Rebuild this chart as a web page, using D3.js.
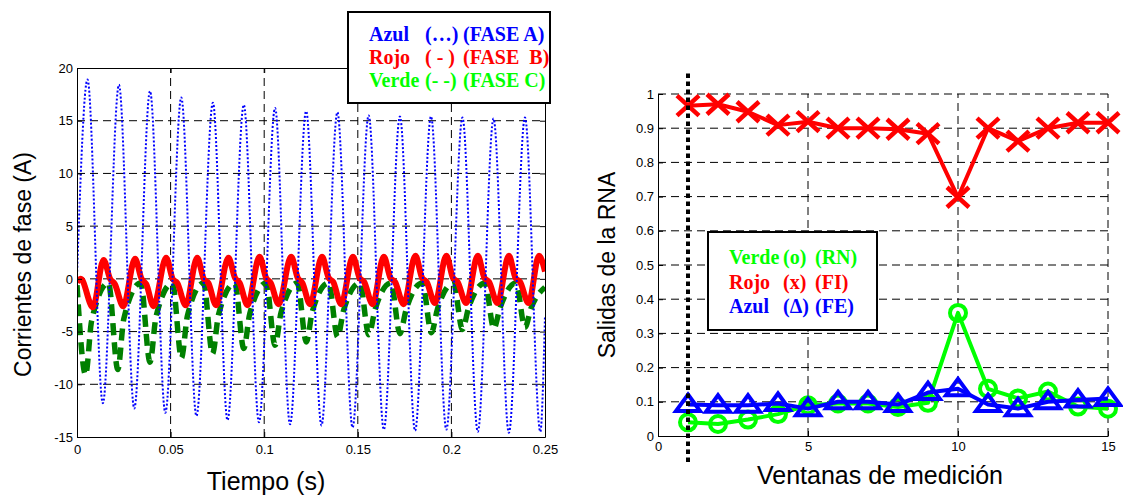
<!DOCTYPE html>
<html>
<head>
<meta charset="utf-8">
<script src="https://cdn.jsdelivr.net/npm/d3@7"></script>
<style>
  body { margin: 0; background: #fff; }
  svg { display: block; }
</style>
</head>
<body>
<div id="chart"></div>
<script>
// ---- left panel: phase currents (t in s, value in A), key points
const timeTicks = [0, 0.05, 0.1, 0.15, 0.2, 0.25];
const currentTicks = [-15, -10, -5, 0, 5, 10, 15, 20];

const faseA = [
  [0, 0.3], [0.0056, 18.9], [0.0138, -11.8], [0.0224, 18.4], [0.0306, -12.3],
  [0.039, 17.8], [0.0472, -12.7], [0.0557, 17.2], [0.0638, -13.0], [0.0726, 16.7],
  [0.0804, -13.4], [0.0891, 16.5], [0.0972, -13.6], [0.1058, 16.2], [0.1138, -13.8],
  [0.1224, 15.9], [0.1306, -13.9], [0.1391, 15.8], [0.1472, -14.1], [0.1558, 15.5],
  [0.1639, -14.3], [0.1725, 15.4], [0.1806, -14.4], [0.1891, 15.4], [0.1973, -14.3],
  [0.2059, 15.3], [0.2141, -14.5], [0.2225, 15.2], [0.2307, -14.6], [0.2393, 15.3],
  [0.2475, -14.5], [0.25, -3.5]
];

const faseB = [
  [0, -0.3], [0.002, 0.0], [0.0085, -2.7],
  [0.0142, 1.8], [0.0177, 0.0], [0.0202, -0.5], [0.0247, -2.6],
  [0.031, 1.9], [0.0345, 0.0], [0.037, -0.5], [0.0409, -2.6],
  [0.0476, 2.0], [0.0511, 0.0], [0.0536, -0.4], [0.0581, -2.5],
  [0.0642, 2.0], [0.0677, 0.0], [0.0702, -0.4], [0.0743, -2.5],
  [0.0809, 2.0], [0.0844, 0.1], [0.0869, -0.4], [0.0911, -2.5],
  [0.0975, 2.1], [0.101, 0.1], [0.1035, -0.4], [0.1077, -2.4],
  [0.1144, 2.1], [0.1179, 0.1], [0.1204, -0.4], [0.1245, -2.4],
  [0.1309, 2.1], [0.1344, 0.1], [0.1369, -0.3], [0.1411, -2.4],
  [0.1474, 2.1], [0.1509, 0.1], [0.1534, -0.3], [0.1579, -2.4],
  [0.1639, 2.1], [0.1674, 0.1], [0.1699, -0.3], [0.1745, -2.4],
  [0.1808, 2.2], [0.1843, 0.1], [0.1868, -0.3], [0.1912, -2.3],
  [0.1973, 2.2], [0.2008, 0.1], [0.2033, -0.3], [0.2079, -2.3],
  [0.2141, 2.2], [0.2176, 0.1], [0.2201, -0.3], [0.2246, -2.3],
  [0.2307, 2.2], [0.2342, 0.1], [0.2367, -0.3], [0.2412, -2.3],
  [0.2468, 2.2], [0.25, 0.7]
];

const faseC = [
  [0, -0.6], [0.0046, -9.1], [0.0078, -4.0], [0.0168, -0.4],
  [0.0218, -8.6], [0.025, -3.8], [0.034, -0.4],
  [0.039, -7.9], [0.0422, -3.6], [0.051, -0.4],
  [0.0558, -7.5], [0.059, -3.5], [0.0676, -0.4],
  [0.0724, -7.1], [0.0756, -3.4], [0.0843, -0.4],
  [0.0891, -6.6], [0.0923, -3.3], [0.101, -0.4],
  [0.1058, -6.3], [0.109, -3.2], [0.1177, -0.4],
  [0.1225, -6.0], [0.1257, -3.1], [0.1344, -0.4],
  [0.1392, -5.5], [0.1424, -3.0], [0.1511, -0.4],
  [0.1559, -5.3], [0.1591, -3.0], [0.1677, -0.4],
  [0.1725, -5.2], [0.1757, -3.0], [0.1845, -0.4],
  [0.1893, -5.1], [0.1925, -2.9], [0.2011, -0.4],
  [0.2059, -4.8], [0.2091, -2.8], [0.2179, -0.4],
  [0.2227, -4.7], [0.2259, -2.8], [0.2345, -0.4],
  [0.2393, -4.6], [0.2425, -2.8], [0.25, -0.8]
];

const leftLegend = [
  { name: 'Azul', mark: '(…)', fase: '(FASE A)', color: '#0000ff' },
  { name: 'Rojo', mark: '( - )', fase: '(FASE\u00a0 B)', color: '#ff0000' },
  { name: 'Verde', mark: '(- -)', fase: '(FASE C)', color: '#00ff00' }
];

// ---- right panel: ANN outputs per measurement window
const ventanas = [1, 2, 3, 4, 5, 6, 7, 8, 9, 10, 11, 12, 13, 14, 15];
const salidaRN = [0.04, 0.035, 0.048, 0.064, 0.09, 0.095, 0.095, 0.085, 0.097, 0.36, 0.138, 0.11, 0.13, 0.086, 0.08];
const salidaFI = [0.966, 0.97, 0.948, 0.909, 0.919, 0.9, 0.9, 0.897, 0.884, 0.698, 0.9, 0.862, 0.9, 0.916, 0.916];
const salidaFE = [0.092, 0.09, 0.09, 0.095, 0.08, 0.1, 0.1, 0.092, 0.127, 0.138, 0.092, 0.08, 0.1, 0.105, 0.11];
const windowTicks = [0, 5, 10, 15];
const outputTicks = [0, 0.1, 0.2, 0.3, 0.4, 0.5, 0.6, 0.7, 0.8, 0.9, 1];
const marcaVentana = 1;

const rightLegend = [
  { name: 'Verde', mark: '(o)', tag: '(RN)', color: '#00ff00' },
  { name: 'Rojo', mark: '(x)', tag: '(FI)', color: '#ff0000' },
  { name: 'Azul', mark: '(\u0394)', tag: '(FE)', color: '#0000ff' }
];

const sans = '"Liberation Sans", Arial, sans-serif';
const serif = '"Liberation Serif", "Times New Roman", serif';

const svg = d3.select('#chart').append('svg')
  .attr('width', 1123)
  .attr('height', 496)
  .style('background', '#fff');

function styleAxis(g) {
  g.selectAll('path.domain').attr('stroke', '#000').attr('stroke-width', 1);
  g.selectAll('.tick line').attr('stroke', '#000');
  g.selectAll('.tick text').attr('font-family', sans).attr('font-size', 13).attr('fill', '#000');
}

// ================= LEFT PANEL =================
const xL = d3.scaleLinear().domain([0, 0.25]).range([77, 545]);
const yL = d3.scaleLinear().domain([-15, 20]).range([437, 68]);

const left = svg.append('g');

left.append('defs').append('clipPath').attr('id', 'clipL')
  .append('rect')
  .attr('x', xL(0)).attr('y', yL(20))
  .attr('width', xL(0.25) - xL(0)).attr('height', yL(-15) - yL(20));

// grid
left.append('g').selectAll('line')
  .data(timeTicks.slice(1, -1))
  .join('line')
  .attr('x1', d => xL(d)).attr('x2', d => xL(d))
  .attr('y1', yL(-15)).attr('y2', yL(20))
  .attr('stroke', '#000').attr('stroke-dasharray', '8,5');
left.append('g').selectAll('line')
  .data(currentTicks.slice(1, -1))
  .join('line')
  .attr('y1', d => yL(d)).attr('y2', d => yL(d))
  .attr('x1', xL(0)).attr('x2', xL(0.25))
  .attr('stroke', '#000').attr('stroke-dasharray', '8,5');

const lineL = d3.line()
  .x(d => xL(d[0]))
  .y(d => yL(d[1]))
  .curve(d3.curveMonotoneX);

const series = left.append('g').attr('clip-path', 'url(#clipL)');
series.append('path').datum(faseC)
  .attr('d', lineL).attr('fill', 'none')
  .attr('stroke', '#008000').attr('stroke-width', 5.5)
  .attr('stroke-dasharray', '12,7');
series.append('path').datum(faseB)
  .attr('d', lineL).attr('fill', 'none')
  .attr('stroke', '#ff0000').attr('stroke-width', 6)
  .attr('stroke-linejoin', 'round');
series.append('path').datum(faseA)
  .attr('d', lineL).attr('fill', 'none')
  .attr('stroke', '#0000ff').attr('stroke-width', 2)
  .attr('stroke-dasharray', '2,2');

// axes (ticks inward, box on)
left.append('g').attr('transform', `translate(0,${yL(-15)})`)
  .call(d3.axisBottom(xL).tickValues(timeTicks).tickFormat(d => String(d))
    .tickSizeInner(-5).tickSizeOuter(0).tickPadding(8))
  .call(styleAxis);
left.append('g').attr('transform', `translate(${xL(0)},0)`)
  .call(d3.axisLeft(yL).tickValues(currentTicks).tickFormat(d => String(d))
    .tickSizeInner(-5).tickSizeOuter(0).tickPadding(4))
  .call(styleAxis);
left.append('g').attr('transform', `translate(0,${yL(20)})`)
  .call(d3.axisTop(xL).tickValues(timeTicks).tickFormat('')
    .tickSizeInner(-5).tickSizeOuter(0))
  .call(styleAxis);
left.append('g').attr('transform', `translate(${xL(0.25)},0)`)
  .call(d3.axisRight(yL).tickValues(currentTicks).tickFormat('')
    .tickSizeInner(-5).tickSizeOuter(0))
  .call(styleAxis);

left.append('text')
  .attr('transform', `translate(31,${(yL(-15) + yL(20)) / 2 + 12}) rotate(-90)`)
  .attr('text-anchor', 'middle')
  .attr('font-family', sans).attr('font-size', 23)
  .text('Corrientes de fase (A)');
left.append('text')
  .attr('x', (xL(0) + xL(0.25)) / 2 - 45).attr('y', 490)
  .attr('text-anchor', 'middle')
  .attr('font-family', sans).attr('font-size', 25)
  .text('Tiempo (s)');

// legend
const legL = left.append('g');
legL.append('rect')
  .attr('x', 348).attr('y', 12).attr('width', 202).attr('height', 91)
  .attr('fill', '#fff').attr('stroke', '#000').attr('stroke-width', 2);
const legLRows = legL.selectAll('g.row').data(leftLegend).join('g')
  .attr('class', 'row')
  .attr('transform', (d, i) => `translate(0,${41 + i * 23})`)
  .attr('font-family', serif).attr('font-weight', 'bold').attr('font-size', 20)
  .attr('fill', d => d.color);
legLRows.append('text').attr('x', 369).text(d => d.name);
legLRows.append('text').attr('x', 425).text(d => d.mark);
legLRows.append('text').attr('x', 463).text(d => d.fase);

// ================= RIGHT PANEL =================
const xR = d3.scaleLinear().domain([0, 15]).range([658, 1108]);
const yR = d3.scaleLinear().domain([0, 1]).range([436, 94]);

const right = svg.append('g');

right.append('g').selectAll('line')
  .data(windowTicks.slice(1))
  .join('line')
  .attr('x1', d => xR(d)).attr('x2', d => xR(d))
  .attr('y1', yR(0)).attr('y2', yR(1))
  .attr('stroke', '#000').attr('stroke-dasharray', '8,5');
right.append('g').selectAll('line')
  .data(outputTicks.slice(1))
  .join('line')
  .attr('y1', d => yR(d)).attr('y2', d => yR(d))
  .attr('x1', xR(0)).attr('x2', xR(15))
  .attr('stroke', '#000').attr('stroke-dasharray', '8,5');

const lineR = d3.line()
  .x((d, i) => xR(ventanas[i]))
  .y(d => yR(d));

// green circles (RN)
right.append('path').datum(salidaRN)
  .attr('d', lineR).attr('fill', 'none')
  .attr('stroke', '#00ff00').attr('stroke-width', 4).attr('stroke-linejoin', 'round');
right.append('g').selectAll('circle').data(salidaRN).join('circle')
  .attr('cx', (d, i) => xR(ventanas[i])).attr('cy', d => yR(d))
  .attr('r', 8).attr('fill', 'none')
  .attr('stroke', '#00ff00').attr('stroke-width', 4);

// red crosses (FI)
right.append('path').datum(salidaFI)
  .attr('d', lineR).attr('fill', 'none')
  .attr('stroke', '#ff0000').attr('stroke-width', 4).attr('stroke-linejoin', 'round');
right.append('g').selectAll('path').data(salidaFI).join('path')
  .attr('transform', (d, i) => `translate(${xR(ventanas[i])},${yR(d)})`)
  .attr('d', 'M-11,-10L11,10M-11,10L11,-10')
  .attr('stroke', '#ff0000').attr('stroke-width', 4.5).attr('fill', 'none');

// blue triangles (FE)
right.append('path').datum(salidaFE)
  .attr('d', lineR).attr('fill', 'none')
  .attr('stroke', '#0000ff').attr('stroke-width', 4).attr('stroke-linejoin', 'round');
right.append('g').selectAll('path').data(salidaFE).join('path')
  .attr('transform', (d, i) => `translate(${xR(ventanas[i])},${yR(d)})`)
  .attr('d', 'M0,-10L12,6.5L-12,6.5Z')
  .attr('stroke', '#0000ff').attr('stroke-width', 4).attr('fill', 'none')
  .attr('stroke-linejoin', 'miter');

// axes (box off, ticks inward)
right.append('g').attr('transform', `translate(0,${yR(0)})`)
  .call(d3.axisBottom(xR).tickValues(windowTicks).tickFormat(d => String(d))
    .tickSizeInner(-5).tickSizeOuter(0).tickPadding(6))
  .call(styleAxis);
right.append('g').attr('transform', `translate(${xR(0)},0)`)
  .call(d3.axisLeft(yR).tickValues(outputTicks).tickFormat(d => String(d))
    .tickSizeInner(-5).tickSizeOuter(0).tickPadding(4))
  .call(styleAxis);

// dotted marker line at the first window
right.append('line')
  .attr('x1', xR(marcaVentana)).attr('x2', xR(marcaVentana))
  .attr('y1', yR(1.06)).attr('y2', yR(-0.076))
  .attr('stroke', '#000').attr('stroke-width', 4)
  .attr('stroke-dasharray', '4.5,3.5');

right.append('text')
  .attr('transform', `translate(615,${(yR(0) + yR(1)) / 2}) rotate(-90)`)
  .attr('text-anchor', 'middle')
  .attr('font-family', sans).attr('font-size', 23)
  .text('Salidas de la RNA');
right.append('text')
  .attr('x', 880).attr('y', 484)
  .attr('text-anchor', 'middle')
  .attr('font-family', sans).attr('font-size', 25)
  .text('Ventanas de medición');

// legend
const legR = right.append('g');
legR.append('rect')
  .attr('x', 708).attr('y', 232).attr('width', 169).attr('height', 98)
  .attr('fill', '#fff').attr('stroke', '#000').attr('stroke-width', 2);
const legRRows = legR.selectAll('g.row').data(rightLegend).join('g')
  .attr('class', 'row')
  .attr('transform', (d, i) => `translate(0,${264 + i * 24.5})`)
  .attr('font-family', serif).attr('font-weight', 'bold').attr('font-size', 20)
  .attr('fill', d => d.color);
legRRows.append('text').attr('x', 729).text(d => d.name);
legRRows.append('text').attr('x', 783).text(d => d.mark);
legRRows.append('text').attr('x', 815).text(d => d.tag);
</script>
</body>
</html>
